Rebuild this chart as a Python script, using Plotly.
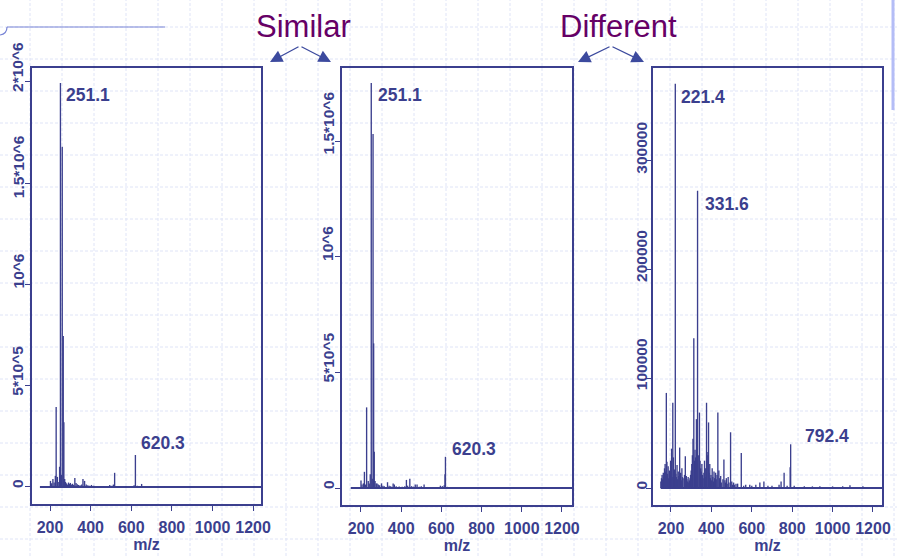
import plotly.graph_objects as go

W, H = 897, 556
NAVY = "#3b3f8e"
PURPLE = "#660066"
FONT = "Liberation Sans, Arial, sans-serif"

# ---------------- data (m/z, intensity) ----------------
p1_peaks = [(202, 30000), (208, 18000), (214, 40000), (220, 22000), (226, 55000),
            (230, 395000), (236, 50000), (243, 25000), (247, 100000), (251.1, 1995000),
            (256, 60000), (260, 1680000), (265, 745000), (268, 320000), (272, 40000),
            (276, 25000), (281, 18000), (286, 12000), (291, 22000), (296, 15000),
            (300, 20000), (305, 12000), (311, 16000), (316, 10000), (322, 45000),
            (328, 20000), (334, 14000), (340, 10000), (348, 8000), (356, 12000),
            (362, 40000), (370, 30000), (378, 12000), (386, 8000), (395, 6000),
            (404, 10000), (415, 6000), (430, 5000), (448, 4000), (465, 5000),
            (480, 4000), (494, 10000), (505, 6000), (512, 12000), (518, 70000),
            (540, 5000), (575, 3000), (600, 4000), (614, 8000), (620.3, 158000),
            (630, 6000), (651, 15000), (700, 4000), (760, 3000), (830, 3000),
            (900, 2500), (980, 2500), (1060, 2000), (1140, 2000), (1210, 2000)]

p2_peaks = [(200, 32000), (205, 15000), (212, 20000), (217, 70000), (222, 15000),
            (228, 349000), (236, 30000), (241, 20000), (246, 60000), (251.1, 1753000),
            (256, 40000), (260, 1532000), (263, 626000), (266, 157000), (270, 30000),
            (276, 20000), (280, 20000), (286, 15000), (293, 12000), (302, 20000),
            (309, 10000), (316, 8000), (332, 25000), (340, 10000), (348, 8000),
            (360, 20000), (366, 15000), (375, 8000), (390, 6000), (405, 5000),
            (418, 8000), (426, 35000), (432, 10000), (443, 40000), (452, 8000),
            (462, 6000), (470, 15000), (479, 15000), (490, 5000), (500, 8000),
            (514, 15000), (530, 4000), (560, 3000), (585, 4000), (595, 10000),
            (605, 8000), (614, 12000), (618, 60000), (620.3, 135000), (630, 5000),
            (660, 3000), (720, 2500), (800, 2500), (880, 2000), (960, 2000),
            (1040, 2000), (1120, 2000), (1200, 2000)]

p3_major = [(177, 87000), (203, 36000), (209, 78000), (221.4, 370000), (243, 37000),
            (271, 29000), (313, 137000), (326, 63000), (331.6, 272000), (341, 69000),
            (376, 78000), (383, 33000), (386, 60000), (432, 69000), (462, 26000),
            (495, 51000), (548, 32000), (522, 4000), (590, 3000), (640, 5000),
            (660, 6000), (745, 6000), (760, 14000), (790, 19000), (792.4, 40000),
            (937, 1500), (1086, 2500)]

p3_minor = [(150, 6000), (153, 9000), (156, 12000), (159, 8000), (162, 14000),
            (165, 10000), (168, 18000), (171, 22000), (174, 15000), (180, 24000),
            (183, 13000), (186, 20000), (189, 9000), (192, 16000), (195, 12000),
            (198, 25000), (201, 14000), (206, 10000), (212, 28000), (215, 12000),
            (218, 17000), (224, 13000), (227, 10000), (230, 21000), (233, 8000),
            (236, 15000), (239, 11000), (248, 14000), (251, 7000), (254, 18000),
            (257, 10000), (264, 9000), (267, 12000), (276, 11000), (279, 8000),
            (282, 6000), (285, 10000), (288, 5000), (291, 7000), (294, 9000),
            (297, 12000), (300, 16000), (303, 22000), (306, 30000), (309, 45000),
            (316, 25000), (319, 35000), (322, 28000), (329, 40000), (335, 30000),
            (344, 25000), (347, 18000), (350, 15000), (353, 22000), (356, 12000),
            (359, 9000), (363, 14000), (366, 25000), (369, 10000), (372, 18000),
            (379, 30000), (389, 14000), (392, 22000), (395, 9000), (398, 12000),
            (401, 7000), (404, 18000), (407, 10000), (410, 6000), (413, 15000),
            (416, 9000), (421, 14000), (424, 8000), (428, 12000), (437, 16000),
            (440, 9000), (443, 6000), (446, 11000), (449, 5000), (457, 8000),
            (467, 7000), (470, 5000), (474, 9000), (478, 4000), (483, 10000),
            (487, 5000), (501, 6000), (505, 3000), (510, 5000), (515, 3000),
            (530, 4000), (560, 2000), (570, 3000), (600, 2000), (620, 3000),
            (680, 2000), (700, 2000), (735, 3000), (775, 2000), (810, 2000),
            (860, 1500), (900, 1500), (1000, 1500), (1050, 1500), (1150, 1500)]

scan_start = [150, 149, 149]
scan_end = 1260

peak_labels = [
    # (panel, m/z, intensity, text, xshift, yshift)
    (1, 251.1, 1995000, "251.1", 4, -12),
    (1, 620.3, 158000, "620.3", 4, 12),
    (2, 251.1, 1753000, "251.1", 5, -12),
    (2, 620.3, 135000, "620.3", 5, 8),
    (3, 221.4, 370000, "221.4", 4, -13),
    (3, 331.6, 272000, "331.6", 5, -13),
    (3, 792.4, 40000, "792.4", 12, 8),
]

x_ticks = [200, 400, 600, 800, 1000, 1200]
y_tick_vals = [
    [0, 500000, 1000000, 1500000, 2000000],
    [0, 500000, 1000000, 1500000],
    [0, 100000, 200000, 300000],
]
y_tick_text = [
    ["0", "5*10^5", "10^6", "1.5*10^6", "2*10^6"],
    ["0", "5*10^5", "10^6", "1.5*10^6"],
    ["0", "100000", "200000", "300000"],
]

# ---------------- layout geometry (pixels) ----------------
frames = [(32, 261, 68, 504), (342, 572, 68, 505), (653, 882, 68, 505)]
x_ranges = [[111, 1239], [105.5, 1250], [111, 1244.6]]
y_ranges = [[-84000, 2069000], [-73600, 1818000], [-15550, 384300]]
ylabel_cx = [18, 328, 641.5]        # pixel centre of rotated y labels
ylabel_shift = [
    [3, 15, 13, 16, 15],
    [3, 15, 13, 18],
    [3, 14, 13, 12],
]


def px(x):
    return x / W


def py(y):
    return 1 - y / H


def sticks(peaks):
    xs, ys = [], []
    for m, h in peaks:
        xs += [m, m, None]
        ys += [0, h, None]
    return xs, ys


fig = go.Figure()
spectra = [p1_peaks, p2_peaks, p3_minor + p3_major]
for i, peaks in enumerate(spectra):
    n = "" if i == 0 else str(i + 1)
    xs, ys = sticks(peaks)
    fig.add_trace(go.Scatter(x=[scan_start[i], scan_end], y=[0, 0], mode="lines",
                             line=dict(color=NAVY, width=2), xaxis="x" + n, yaxis="y" + n,
                             hoverinfo="skip", showlegend=False))
    fig.add_trace(go.Scatter(x=xs, y=ys, mode="lines", line=dict(color=NAVY, width=1.35),
                             xaxis="x" + n, yaxis="y" + n, showlegend=False))

layout = dict(width=W, height=H, margin=dict(l=0, r=0, t=0, b=0),
              paper_bgcolor="white", plot_bgcolor="rgba(0,0,0,0)", showlegend=False,
              font=dict(family=FONT, color=NAVY))
xtickfont = dict(family=FONT, size=16, color=NAVY, weight="bold")
ytickfont = dict(family=FONT, size=15.5, color=NAVY, weight="bold")
for i, (x0, x1, y0, y1) in enumerate(frames):
    n = "" if i == 0 else str(i + 1)
    layout["xaxis" + n] = dict(
        domain=[px(x0), px(x1)], range=x_ranges[i], anchor="y" + n,
        tickvals=x_ticks, ticks="outside", ticklen=5, tickcolor=NAVY, tickwidth=1,
        showline=True, mirror=True, linecolor=NAVY, linewidth=1.5,
        showgrid=False, zeroline=False, tickfont=xtickfont, automargin=False,
        ticklabelstandoff=3,
        title=dict(text="m/z", font=xtickfont, standoff=3))
    layout["yaxis" + n] = dict(
        domain=[py(y1), py(y0)], range=y_ranges[i], anchor="x" + n,
        tickvals=y_tick_vals[i], showticklabels=False,
        ticks="outside", ticklen=5, tickcolor=NAVY, tickwidth=1,
        showline=True, mirror=True, linecolor=NAVY, linewidth=1.5,
        showgrid=False, zeroline=False, automargin=False)

shapes = []
grid_color = "#dfe4f7"
for k in range(28):
    shapes.append(dict(type="line", xref="paper", yref="paper", x0=px(30 + 32 * k),
                       x1=px(30 + 32 * k), y0=0, y1=1, layer="below",
                       line=dict(color=grid_color, width=1, dash="3px,2px")))
for k in range(17):
    shapes.append(dict(type="line", xref="paper", yref="paper", x0=0, x1=1,
                       y0=py(27 + 32 * k), y1=py(27 + 32 * k), layer="below",
                       line=dict(color=grid_color, width=1, dash="3px,2px")))
shapes.append(dict(type="line", xref="paper", yref="paper", x0=px(7), x1=px(165),
                   y0=py(27), y1=py(27), line=dict(color="#7884d6", width=1.2)))
shapes.append(dict(type="path", xref="paper", yref="paper",
                   path=f"M {px(0)},{py(35)} Q {px(7)},{py(34)} {px(7)},{py(27)}",
                   line=dict(color="#7884d6", width=1.2)))
shapes.append(dict(type="line", xref="paper", yref="paper", x0=px(893), x1=px(893),
                   y0=py(0), y1=py(110), line=dict(color="#b4bdf6", width=3)))
layout["shapes"] = shapes

annotations = []
for i in range(3):
    n = "" if i == 0 else str(i + 1)
    for v, t, s in zip(y_tick_vals[i], y_tick_text[i], ylabel_shift[i]):
        annotations.append(dict(x=px(ylabel_cx[i]), y=v, xref="paper", yref="y" + n,
                                text=t, textangle=-90, showarrow=False,
                                xanchor="center", yanchor="middle", yshift=s,
                                font=ytickfont))
for panel, mz, h, text, xs, ys in peak_labels:
    n = "" if panel == 1 else str(panel)
    annotations.append(dict(x=mz, y=h, xref="x" + n, yref="y" + n, text=text,
                            showarrow=False, xanchor="left", yanchor="middle",
                            xshift=xs, yshift=ys,
                            font=dict(family=FONT, size=17.5, color=NAVY, weight="bold")))
for text, cx in [("Similar", 303), ("Different", 618)]:
    annotations.append(dict(x=px(cx), y=py(26), xref="paper", yref="paper", text=text,
                            showarrow=False, xanchor="center", yanchor="middle",
                            font=dict(family=FONT, size=31, color=PURPLE)))
ARROW = "#3c4a9e"
for apex, left, right in [((300, 46), (270, 62), (331, 62)), ((611, 46), (578, 62), (644, 62))]:
    for head in (left, right):
        annotations.append(dict(x=px(head[0]), y=py(head[1]), xref="paper", yref="paper",
                                ax=apex[0] - head[0], ay=apex[1] - head[1],
                                axref="pixel", ayref="pixel", text="", showarrow=True,
                                arrowhead=2, arrowsize=1.9, arrowwidth=1.3,
                                arrowcolor=ARROW, standoff=0))
layout["annotations"] = annotations

fig.update_layout(**layout)
fig.write_html("out.html", config={"displayModeBar": False},
               post_script="document.body.style.margin='0';document.body.style.overflow='hidden';")
